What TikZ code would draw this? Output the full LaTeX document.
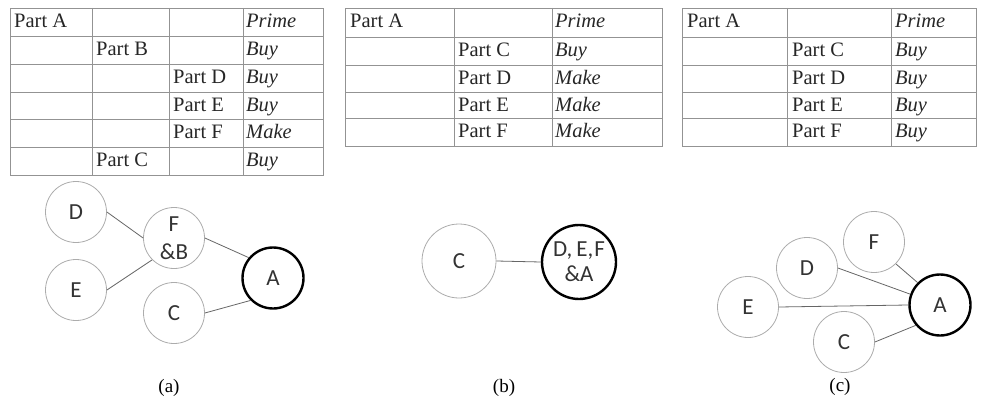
\documentclass[tikz,border=0pt]{standalone}
\usepackage{fontspec}
\setmainfont{Liberation Serif}
\newfontfamily\calfont{Carlito}
\usepackage{tikz}

\begin{document}
\begin{tikzpicture}[x=1pt,y=-1pt]
\tikzstyle{tabline} =[draw=gray!85, line width=0.9pt]
\tikzstyle{cell} =[anchor=base west, inner sep=0pt, font=\fontsize{20.5}{24}\selectfont, text=black!85]
\tikzstyle{mode} =[cell, font=\fontsize{20.5}{24}\selectfont\itshape]
\tikzstyle{part} =[circle, draw=gray!65, line width=0.8pt, minimum size=61pt, inner sep=0pt, align=center, font=\calfont\fontsize{23}{28}\selectfont, text=black!80]
\tikzstyle{root} =[part, draw=black, line width=2.4pt]
\tikzstyle{link} =[draw=gray!80!black, line width=0.8pt]
\tikzstyle{caption} =[font=\fontsize{19}{22}\selectfont]

\useasboundingbox (0,0) rectangle (985,401);

% table (a)
\draw[tabline] (10,8) rectangle (323,175);
\draw[tabline] (92,8) -- (92,175) (169,8) -- (169,175) (243,8) -- (243,175);
\draw[tabline] (10,36) -- (323,36) (10,64) -- (323,64) (10,92) -- (323,92) (10,119) -- (323,119) (10,147) -- (323,147);

\node[cell](p1a) at (14,28){Part A};
\node[mode](m1a) at (246,28){Prime};
\node[cell](p1b) at (96,56){Part B};
\node[mode](m1b) at (246,56){Buy};
\node[cell](p1d) at (173,84){Part D};
\node[mode](m1d) at (246,84){Buy};
\node[cell](p1e) at (173,112){Part E};
\node[mode](m1e) at (246,112){Buy};
\node[cell](p1f) at (173,139){Part F};
\node[mode](m1f) at (246,139){Make};
\node[cell](p1c) at (96,167){Part C};
\node[mode](m1c) at (246,167){Buy};

% table (b)
\draw[tabline] (345,8) rectangle (662,146);
\draw[tabline] (454,8) -- (454,146) (552,8) -- (552,146);
\draw[tabline] (345,37) -- (662,37) (345,65) -- (662,65) (345,92) -- (662,92) (345,118) -- (662,118);

\node[cell](p2a) at (350,28){Part A};
\node[mode](m2a) at (555,28){Prime};
\node[cell](p2c) at (458,57){Part C};
\node[mode](m2c) at (555,57){Buy};
\node[cell](p2d) at (458,85){Part D};
\node[mode](m2d) at (555,85){Make};
\node[cell](p2e) at (458,112){Part E};
\node[mode](m2e) at (555,112){Make};
\node[cell](p2f) at (458,138){Part F};
\node[mode](m2f) at (555,138){Make};

% table (c)
\draw[tabline] (682,8) rectangle (976,146);
\draw[tabline] (787,8) -- (787,146) (891,8) -- (891,146);
\draw[tabline] (682,37) -- (976,37) (682,65) -- (976,65) (682,92) -- (976,92) (682,118) -- (976,118);

\node[cell](p3a) at (687,28){Part A};
\node[mode](m3a) at (895,28){Prime};
\node[cell](p3c) at (792,57){Part C};
\node[mode](m3c) at (895,57){Buy};
\node[cell](p3d) at (792,85){Part D};
\node[mode](m3d) at (895,85){Buy};
\node[cell](p3e) at (792,112){Part E};
\node[mode](m3e) at (895,112){Buy};
\node[cell](p3f) at (792,138){Part F};
\node[mode](m3f) at (895,138){Buy};

% graph (a)
\node[part](aD) at (76,212){D};
\node[part](aE) at (76,290){E};
\node[part](aFB) at (174,238){F\\\&B};
\node[part](aC) at (174,313){C};
\node[root](aA) at (273,278){A};

\draw[link] (aD.east) -- (aFB.west);
\draw[link] (aE.east) -- (aFB.225);
\draw[link] (aFB.east) -- (aA.140);
\draw[link] (aC.east) -- (aA.225);

\node[caption](capa) at (169,388){(a)};

% graph (b)
\node[part,minimum size=74pt](bC) at (459,261){C};
\node[root,minimum size=74pt,font=\calfont\fontsize{23}{25}\selectfont](bA) at (579,262){D,\hspace{4pt}E,\hspace{1pt}F\\\&A};

\draw[link] (bC.east) -- (bA.west);

\node[caption](capb) at (504,388){(b)};

% graph (c)
\node[part](cF) at (874,242){F};
\node[part](cD) at (807,268){D};
\node[part](cE) at (748,307){E};
\node[part](cC) at (844,342){C};
\node[root](cA) at (940,305){A};

\draw[link] (cE.east) -- (cA.west);
\draw[link] (cD.east) -- (cA.160);
\draw[link] (cF.south east) -- (cA.north west);
\draw[link] (cC.east) -- (cA.220);

\node[caption](capc) at (840,387){(c)};
\end{tikzpicture}
\end{document}
